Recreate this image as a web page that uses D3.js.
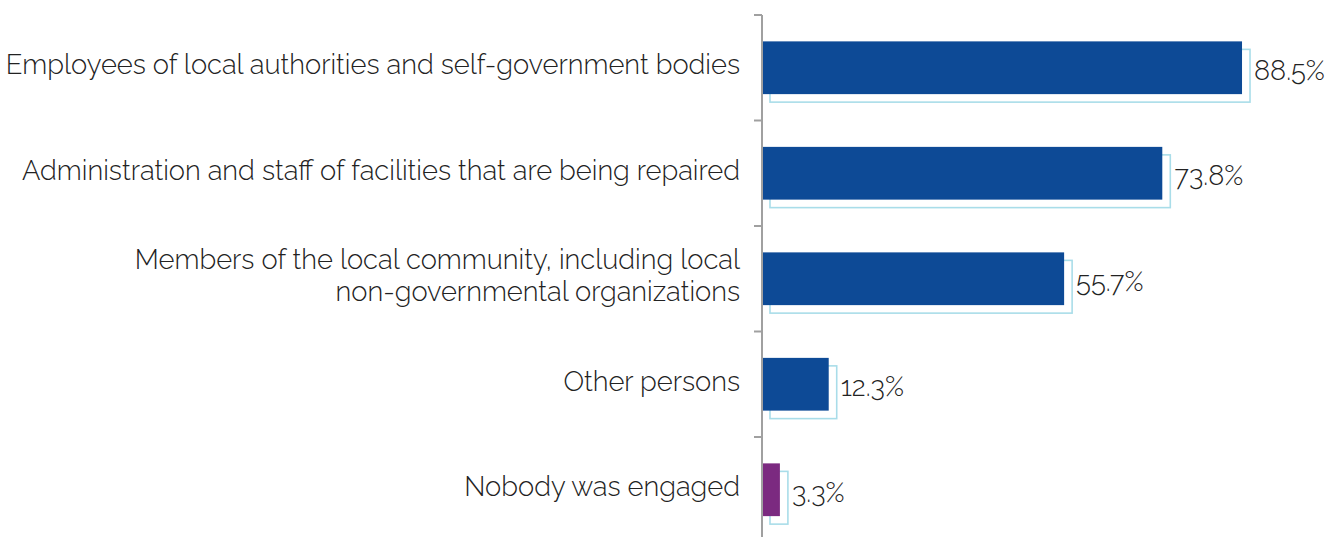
<!DOCTYPE html>
<html><head><meta charset="utf-8">
<script src="https://cdn.jsdelivr.net/npm/d3@7"></script>
<style>body{margin:0;background:#fff}svg{display:block}</style>
</head><body>
<svg id="c" width="1326" height="537"></svg>
<script>
const categories = [
  ["Employees of local authorities and self-government bodies"],
  ["Administration and staff of facilities that are being repaired"],
  ["Members of the local community, including local","non-governmental organizations"],
  ["Other persons"],
  ["Nobody was engaged"]
];
const values = [88.5, 73.8, 55.7, 12.3, 3.3];
const valueLabels = ["88.5%", "73.8%", "55.7%", "12.3%", "3.3%"];
const barColors = ["#0d4a96","#0d4a96","#0d4a96","#0d4a96","#7b2a80"];

(function(){
const svg = d3.select("#c");
const x0 = 762, topY = 15, band = 105.5;
const ids = d3.range(values.length);
const y = d3.scaleBand().domain(ids).range([topY, topY + band*values.length]).paddingInner(0.5).paddingOuter(0.25);
const x = d3.scaleLinear().domain([0,100]).range([x0, x0+542.4]);
const off = 8;
const font = "Raleway, Lato, 'Open Sans', sans-serif";
const fs = 27.3;

svg.selectAll("rect.sh").data(ids).join("rect")
  .attr("x", d=>x(0)+off).attr("y", d=>y(d)+off)
  .attr("width", d=>x(values[d])-x(0)).attr("height", y.bandwidth())
  .attr("fill","#fff").attr("stroke","#a9dde9").attr("stroke-width",1.6);
svg.selectAll("rect.b").data(ids).join("rect")
  .attr("x", x(0)).attr("y", d=>y(d))
  .attr("width", d=>x(values[d])-x(0)).attr("height", y.bandwidth())
  .attr("fill", d=>barColors[d]);

const yAxis = d3.scaleLinear().domain([0,values.length]).range([topY, topY+band*values.length]);
const g = svg.append("g");
g.append("line").attr("x1",x0).attr("x2",x0).attr("y1",topY).attr("y2",537).attr("stroke","#a0a0a0").attr("stroke-width",2);
g.selectAll("line.t").data(d3.range(values.length)).join("line")
  .attr("x1",x0-8).attr("x2",x0).attr("y1",d=>yAxis(d)).attr("y2",d=>yAxis(d))
  .attr("stroke","#a0a0a0").attr("stroke-width",2);

ids.forEach(i=>{
  const lines = categories[i];
  const cy = y(i)+y.bandwidth()/2;
  const lh = 32;
  const t = svg.append("text").attr("text-anchor","end").attr("font-family",font).attr("font-weight",300)
    .attr("font-size",fs).attr("fill","#222");
  lines.forEach((l,j)=>{
    t.append("tspan").attr("x",740).attr("y", cy + 6.5 + (j-(lines.length-1)/2)*lh).text(l);
  });
});
svg.selectAll("text.v").data(ids).join("text")
  .attr("x", d=>x(values[d])+off+4).attr("y", d=>y(d)+y.bandwidth()/2+12)
  .attr("font-family",font).attr("font-weight",300).attr("font-size",fs).attr("fill","#222")
  .text(d=>valueLabels[d]);
})();
</script>
</body></html>
